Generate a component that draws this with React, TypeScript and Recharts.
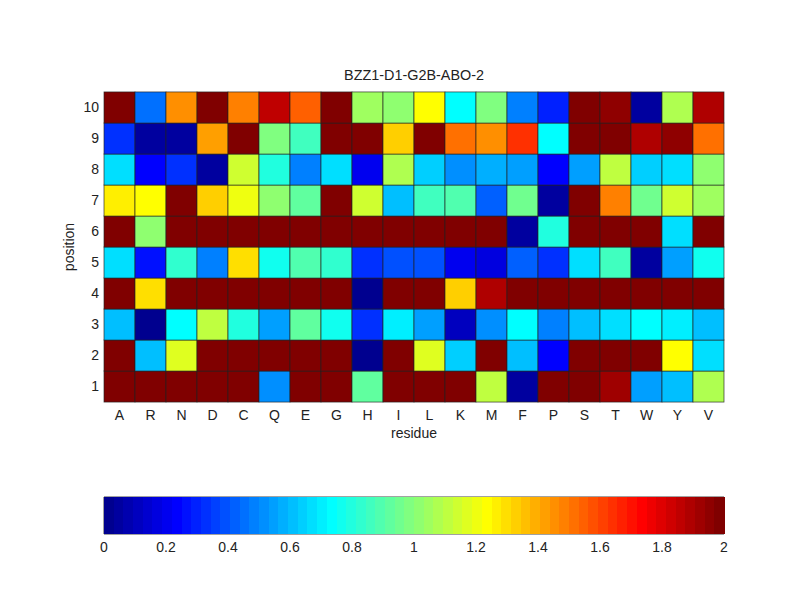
import { ReferenceLine, Scatter, ScatterChart, XAxis, YAxis } from 'recharts'

const residues = ['A', 'R', 'N', 'D', 'C', 'Q', 'E', 'G', 'H', 'I', 'L', 'K', 'M', 'F', 'P', 'S', 'T', 'W', 'Y', 'V']
const positions = [1, 2, 3, 4, 5, 6, 7, 8, 9, 10]
const barTicks = [0, 0.2, 0.4, 0.6, 0.8, 1, 1.2, 1.4, 1.6, 1.8, 2]

const pos1 = [2, 2, 2, 2, 2, 0.5, 2, 2, 0.93, 2, 2, 2, 1.12, 0.04, 1.98, 1.98, 1.92, 0.56, 0.61, 1.08]
const pos2 = [2, 0.61, 1.17, 2, 2, 2, 2, 2, 0.03, 2, 1.17, 0.64, 1.97, 0.61, 0.22, 2, 2, 2, 1.23, 0.67]
const pos3 = [0.6, 0.03, 0.72, 1.1, 0.8, 0.55, 0.93, 0.75, 0.33, 0.69, 0.56, 0.1, 0.52, 0.72, 0.47, 0.6, 0.67, 0.72, 0.7, 0.6]
const pos4 = [2, 1.3, 2, 2, 2, 2, 2, 2, 0.03, 2, 1.97, 1.33, 1.9, 2, 2, 2, 2, 2, 2, 2]
const pos5 = [0.68, 0.25, 0.84, 0.47, 1.3, 0.76, 0.88, 0.83, 0.34, 0.4, 0.4, 0.19, 0.17, 0.41, 0.34, 0.68, 0.86, 0.04, 0.54, 0.78]
const pos6 = [2, 1, 2, 2, 2, 2, 2, 2, 2, 2, 2, 2, 2, 0.04, 0.8, 2, 2, 2, 0.67, 2]
const pos7 = [1.28, 1.23, 1.97, 1.33, 1.19, 1.02, 0.92, 1.97, 1.13, 0.6, 0.85, 0.9, 0.43, 0.95, 0.04, 1.98, 1.47, 0.95, 1.15, 1.05]
const pos8 = [0.68, 0.22, 0.32, 0.05, 1.15, 0.8, 0.47, 0.68, 0.2, 1.08, 0.65, 0.5, 0.58, 0.54, 0.22, 0.54, 1.1, 0.65, 0.68, 1]
const pos9 = [0.34, 0.05, 0.04, 1.42, 2, 0.98, 0.86, 1.98, 1.98, 1.33, 1.99, 1.5, 1.45, 1.65, 0.72, 1.98, 1.97, 1.9, 1.95, 1.5]
const pos10 = [2, 0.45, 1.45, 2, 1.47, 1.87, 1.55, 2, 1.05, 1, 1.23, 0.72, 0.98, 0.47, 0.3, 1.98, 1.95, 0.05, 1.07, 1.9]
const rows = [pos1, pos2, pos3, pos4, pos5, pos6, pos7, pos8, pos9, pos10]

const PLOT_W = 620
const PLOT_H = 311
const BAR_H = 37
const LEVELS = 64
const FONT = '"Liberation Sans", Arial, sans-serif'

// matlab jet(64)
function jetLevel(i: number) {
  const x = (i + 1) / LEVELS
  const ch = (v: number) => Math.round(255 * Math.max(0, Math.min(1, v)))
  const r = ch(Math.min(4 * x - 1.5, -4 * x + 4.5))
  const g = ch(Math.min(4 * x - 0.5, -4 * x + 3.5))
  const b = ch(Math.min(4 * x + 0.5, -4 * x + 2.5))
  return `rgb(${r},${g},${b})`
}

function jet(value: number) {
  return jetLevel(Math.min(LEVELS - 1, Math.floor((value / 2) * LEVELS)))
}

const cells = rows.flatMap((row, r) =>
  row.map((value, c) => ({ x: c + 1, y: positions[r], value })),
)
const barLevels = Array.from({ length: LEVELS }, (_, i) => ({ x: ((i + 0.5) * 2) / LEVELS, y: 0.5, level: i }))

function HeatCell(props: any) {
  const w = PLOT_W / residues.length
  const h = PLOT_H / positions.length
  return (
    <rect
      x={props.cx - w / 2}
      y={props.cy - h / 2}
      width={w}
      height={h}
      fill={jet(props.payload.value)}
      stroke="#222"
      strokeOpacity={0.8}
      strokeWidth={0.8}
    />
  )
}

function BarBand(props: any) {
  const w = PLOT_W / LEVELS
  return (
    <rect
      x={props.cx - w / 2}
      y={props.cy - BAR_H / 2}
      width={w + 1}
      height={BAR_H}
      fill={jetLevel(props.payload.level)}
      shapeRendering="crispEdges"
    />
  )
}

const axisTick = { fontSize: 14, fill: '#222', fontFamily: FONT }
const labelStyle = { fontSize: 14, fill: '#222', fontFamily: FONT }

export default function App() {
  return (
    <div style={{ position: 'absolute', left: 0, top: 0, width: 800, height: 600, background: '#fff' }}>
      <div
        style={{
          position: 'absolute',
          left: 104,
          top: 67,
          width: PLOT_W,
          textAlign: 'center',
          fontFamily: FONT,
          fontSize: 14.4,
          color: '#222',
        }}
      >
        BZZ1-D1-G2B-ABO-2
      </div>
      <div style={{ position: 'absolute', left: 0, top: 0 }}>
        <ScatterChart width={800} height={450} margin={{ top: 92, right: 76, bottom: 5, left: 64 }}>
          <XAxis
            type="number"
            dataKey="x"
            domain={[0.5, 20.5]}
            ticks={residues.map((_, i) => i + 1)}
            interval={0}
            tickFormatter={(v: number) => residues[v - 1]}
            tick={axisTick}
            tickLine={false}
            axisLine={false}
            tickSize={0}
            height={43}
            tickMargin={8}
            label={{ value: 'residue', position: 'insideBottom', offset: 7, style: labelStyle }}
          />
          <YAxis
            type="number"
            dataKey="y"
            domain={[0.5, 10.5]}
            ticks={positions}
            interval={0}
            tick={axisTick}
            tickLine={false}
            axisLine={false}
            tickSize={0}
            width={40}
            tickMargin={5}
            label={{ value: 'position', angle: -90, position: 'insideLeft', offset: 5, style: { ...labelStyle, textAnchor: 'middle' } }}
          />
          <Scatter data={cells} shape={HeatCell} isAnimationActive={false} />
        </ScatterChart>
      </div>
      <div style={{ position: 'absolute', left: 0, top: 480 }}>
        <ScatterChart width={800} height={90} margin={{ top: 17, right: 76, bottom: 5, left: 104 }}>
          <XAxis
            type="number"
            dataKey="x"
            domain={[0, 2]}
            ticks={barTicks}
            interval={0}
            tick={axisTick}
            tickLine={false}
            axisLine={false}
            tickSize={0}
            height={31}
            tickMargin={8}
          />
          <YAxis type="number" dataKey="y" domain={[0, 1]} hide />
          <Scatter data={barLevels} shape={BarBand} isAnimationActive={false} />
          <ReferenceLine segment={[{ x: 0, y: 0 }, { x: 2, y: 0 }]} stroke="#444" />
          <ReferenceLine segment={[{ x: 0, y: 1 }, { x: 2, y: 1 }]} stroke="#444" />
          <ReferenceLine segment={[{ x: 0, y: 0 }, { x: 0, y: 1 }]} stroke="#444" />
          <ReferenceLine segment={[{ x: 2, y: 0 }, { x: 2, y: 1 }]} stroke="#444" />
          {barTicks.slice(1, -1).map((t) => (
            <ReferenceLine key={`b${t}`} segment={[{ x: t, y: 0 }, { x: t, y: 0.16 }]} stroke="#444" />
          ))}
          {barTicks.slice(1, -1).map((t) => (
            <ReferenceLine key={`t${t}`} segment={[{ x: t, y: 0.84 }, { x: t, y: 1 }]} stroke="#444" />
          ))}
        </ScatterChart>
      </div>
    </div>
  )
}
